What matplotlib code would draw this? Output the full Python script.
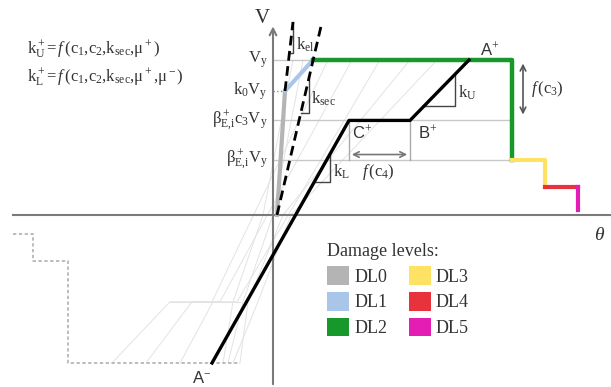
import numpy as np
import matplotlib
matplotlib.use("Agg")
import matplotlib.pyplot as plt
from matplotlib.patches import Patch

plt.rcParams['font.family'] = ['Liberation Serif', 'DejaVu Serif']
plt.rcParams['mathtext.fontset'] = 'custom'
plt.rcParams['mathtext.rm'] = 'Liberation Serif'
plt.rcParams['mathtext.it'] = 'Liberation Serif:italic'

# force levels (V / Vy) and drift values (theta, arbitrary units)
V_levels = [1.0, 0.80, 0.61, 0.355]
V_labels = [r'$\mathrm{V_y}$', r'$\mathrm{k_0V_y}$',
            r'$\mathrm{\beta^+_{E{,}i}c_3V_y}$', r'$\mathrm{\beta^+_{E{,}i}V_y}$']

# damage-level envelope
dl0_th = [0.04, 0.12]
dl0_v = [0.0, 0.80]
dl1_th = [0.12, 0.40]
dl1_v = [0.80, 1.0]
dl2_th = [0.40, 2.39, 2.39]
dl2_v = [1.0, 1.0, 0.355]
dl3_th = [2.39, 2.72, 2.72]
dl3_v = [0.355, 0.355, 0.18]
dl4_th = [2.72, 3.05]
dl4_v = [0.18, 0.18]
dl5_th = [3.05, 3.05]
dl5_v = [0.18, 0.03]

# stiffness lines
kel_th = [0.12, 0.20]
kel_v = [0.80, 1.245]
ksec_th = [0.04, 0.49]
ksec_v = [0.0, 1.245]

# backbone A- -> C+ -> B+ -> A+
bb_th = [-0.61, 0.76, 1.37, 1.96]
bb_v = [-0.955, 0.61, 0.61, 1.0]

# negative envelope (dashed)
neg_th = [-2.60, -2.40, -2.40, -2.05, -2.05, -0.33]
neg_v = [-0.12, -0.12, -0.30, -0.30, -0.955, -0.955]

# faint hysteresis loops
loops = [
    ([-1.61, -1.03, -0.61, 0.55], [-0.955, -0.56, -0.56, 1.0]),
    ([-1.27, -0.81, -0.53, 0.79], [-0.955, -0.56, -0.56, 1.0]),
    ([-0.93, -0.60, -0.36, 1.07], [-0.955, -0.56, -0.56, 1.0]),
    ([-0.33, -0.25, 0.10, 1.37], [-0.955, -0.56, 0.0, 1.0]),
    ([-0.40, -0.15, 0.18, 1.64], [-0.955, -0.56, 0.0, 1.0]),
    ([-0.45, -0.30, 0.00, 0.30], [-0.955, -0.56, 0.0, 1.0]),
    ([-0.50, -0.40, -0.10, 0.20], [-0.955, -0.56, 0.0, 1.0]),
]
loop_flat_th = [-1.03, -0.33]
loop_flat_v = [-0.56, -0.56]

dl_names = ['DL0', 'DL1', 'DL2', 'DL3', 'DL4', 'DL5']
dl_colors = ['#b4b4b4', '#a9c6ea', '#16992a', '#ffe163', '#e8323c', '#e41eb4']

fig = plt.figure(figsize=(6.11, 3.87), dpi=100)
ax = fig.add_axes([0, 0, 1, 1])
ax.set_xlim(-2.73, 3.38)
ax.set_ylim(-1.11, 1.387)
ax.axis('off')

# faint loops
for th, v in loops:
    ax.plot(th, v, color='#e3e3e3', lw=0.7, zorder=1)
ax.plot(loop_flat_th, loop_flat_v, color='#e3e3e3', lw=0.7, zorder=1)

# reference levels
for lv in [1.0, 0.61, 0.355]:
    ax.plot([0, 2.39], [lv, lv], color='#c8c8c8', lw=1, zorder=2)

# axes
ax.plot([-2.60, 3.38], [0, 0], color='#7a7a7a', lw=1.5, zorder=3)
ax.annotate('', xy=(0, 1.235), xytext=(0, -1.11),
            arrowprops=dict(arrowstyle='->', color='#7a7a7a', lw=1.5,
                            mutation_scale=12), zorder=3)

ax.plot(neg_th, neg_v, color='#b0b0b0', lw=1.2, ls=(0, (2, 1.5)), zorder=2)

# k0Vy dotted
ax.plot([0, dl0_th[1]], [V_levels[1], V_levels[1]], color='#888888', lw=1,
        ls=':', zorder=3)

# damage level paths
ax.plot(dl0_th, dl0_v, color=dl_colors[0], lw=3, zorder=4)
ax.plot(dl1_th, dl1_v, color=dl_colors[1], lw=3, zorder=4)
ax.plot(dl2_th, dl2_v, color=dl_colors[2], lw=3.2, zorder=5)
ax.plot(dl3_th, dl3_v, color=dl_colors[3], lw=3, zorder=5)
ax.plot(dl4_th, dl4_v, color=dl_colors[4], lw=3, zorder=5)
ax.plot(dl5_th, dl5_v, color=dl_colors[5], lw=3, zorder=5)

ax.plot(kel_th, kel_v, color='black', lw=2, ls=(0, (3.5, 2)), zorder=6)
ax.plot(ksec_th, ksec_v, color='black', lw=2, ls=(0, (3.5, 2)), zorder=6)

ax.plot(bb_th, bb_v, color='black', lw=2.4, zorder=6)


def slope_triangle(th0, v0, th1, v1, v_base, th_side):
    # legs of a slope triangle under the segment (th0,v0)-(th1,v1)
    s = (v1 - v0) / (th1 - th0)
    th_b = th0 + (v_base - v0) / s
    v_top = v0 + (th_side - th0) * s
    ax.plot([th_b, th_side, th_side], [v_base, v_base, v_top],
            color='#444444', lw=1, zorder=5)


slope_triangle(bb_th[2], bb_v[2], bb_th[3], bb_v[3], 0.70, 1.82)
slope_triangle(bb_th[0], bb_v[0], bb_th[1], bb_v[1], 0.213, 0.57)
slope_triangle(kel_th[0], kel_v[0], kel_th[1], kel_v[1], 1.045, 0.20)
slope_triangle(ksec_th[0], ksec_v[0], ksec_th[1], ksec_v[1], 0.658, 0.36)

# f(c4) bracket
for th in [bb_th[1], bb_th[2]]:
    ax.plot([th, th], [0.61, 0.355], color='#aaaaaa', lw=1, zorder=3)
ax.annotate('', xy=(bb_th[1], 0.39), xytext=(bb_th[2], 0.39),
            arrowprops=dict(arrowstyle='<->', color='#777777', lw=1.2))
# f(c3) arrow
ax.annotate('', xy=(2.50, 0.995), xytext=(2.50, 0.63),
            arrowprops=dict(arrowstyle='<->', color='#555555', lw=1.2))

# V-axis labels
for lv, lab in zip(V_levels, V_labels):
    ax.text(-0.05, lv, lab, ha='right', va='center', fontsize=12, color='#333333')
ax.text(-0.11, 1.27, 'V', ha='center', va='center', fontsize=15, color='#333333')
ax.text(3.27, -0.13, r'$\theta$', ha='center', va='center', fontsize=14,
        color='#333333')

# slope labels
ax.text(0.23, 1.10, r'$\mathrm{k_{el}}$', ha='left', va='center', fontsize=12, color='#333333')
ax.text(0.38, 0.75, r'$\mathrm{k_{sec}}$', ha='left', va='center', fontsize=12, color='#333333')
ax.text(1.85, 0.79, r'$\mathrm{k_U}$', ha='left', va='center', fontsize=12, color='#333333')
ax.text(0.60, 0.28, r'$\mathrm{k_L}$', ha='left', va='center', fontsize=12, color='#333333')
ax.text(2.58, 0.81, r'$f\,\mathrm{(c_3)}$', ha='left', va='center', fontsize=12, color='#333333')
ax.text(1.05, 0.28, r'$f\,\mathrm{(c_4)}$', ha='center', va='center', fontsize=12, color='#333333')

# point labels
for th, v, lab in [(2.17, 1.07, r'A$^{+}$'), (1.55, 0.53, r'B$^{+}$'),
                   (0.89, 0.53, r'C$^{+}$'), (-0.71, -1.05, r'A$^{-}$')]:
    ax.text(th, v, lab, ha='center', va='center', fontsize=12,
            family='Liberation Sans', color='#333333')

# formulas
ax.text(-2.46, 1.065, r'$\mathrm{k_U^+\!=}f\,\mathrm{(c_1{,}c_2{,}k_{sec}{,}\mu^+)}$',
        ha='left', va='center', fontsize=12, color='#333333')
ax.text(-2.46, 0.885, r'$\mathrm{k_L^+\!=}f\,\mathrm{(c_1{,}c_2{,}k_{sec}{,}\mu^+{,}\mu^-)}$',
        ha='left', va='center', fontsize=12, color='#333333')

# legend
handles = [Patch(facecolor=c, edgecolor='none', label=n)
           for n, c in zip(dl_names, dl_colors)]
leg = fig.legend(handles=handles, ncol=2, title='Damage levels:',
                 loc='upper left', bbox_to_anchor=(318 / 611, 1 - 234 / 387),
                 frameon=False, fontsize=13, title_fontsize=13,
                 handlelength=1.2, handleheight=1.2, handletextpad=0.3,
                 columnspacing=1.2, labelspacing=0.35, borderpad=0,
                 alignment='left')
for t in leg.get_texts():
    t.set_color('#333333')
leg.get_title().set_color('#333333')

fig.savefig('out.png', dpi=100)
